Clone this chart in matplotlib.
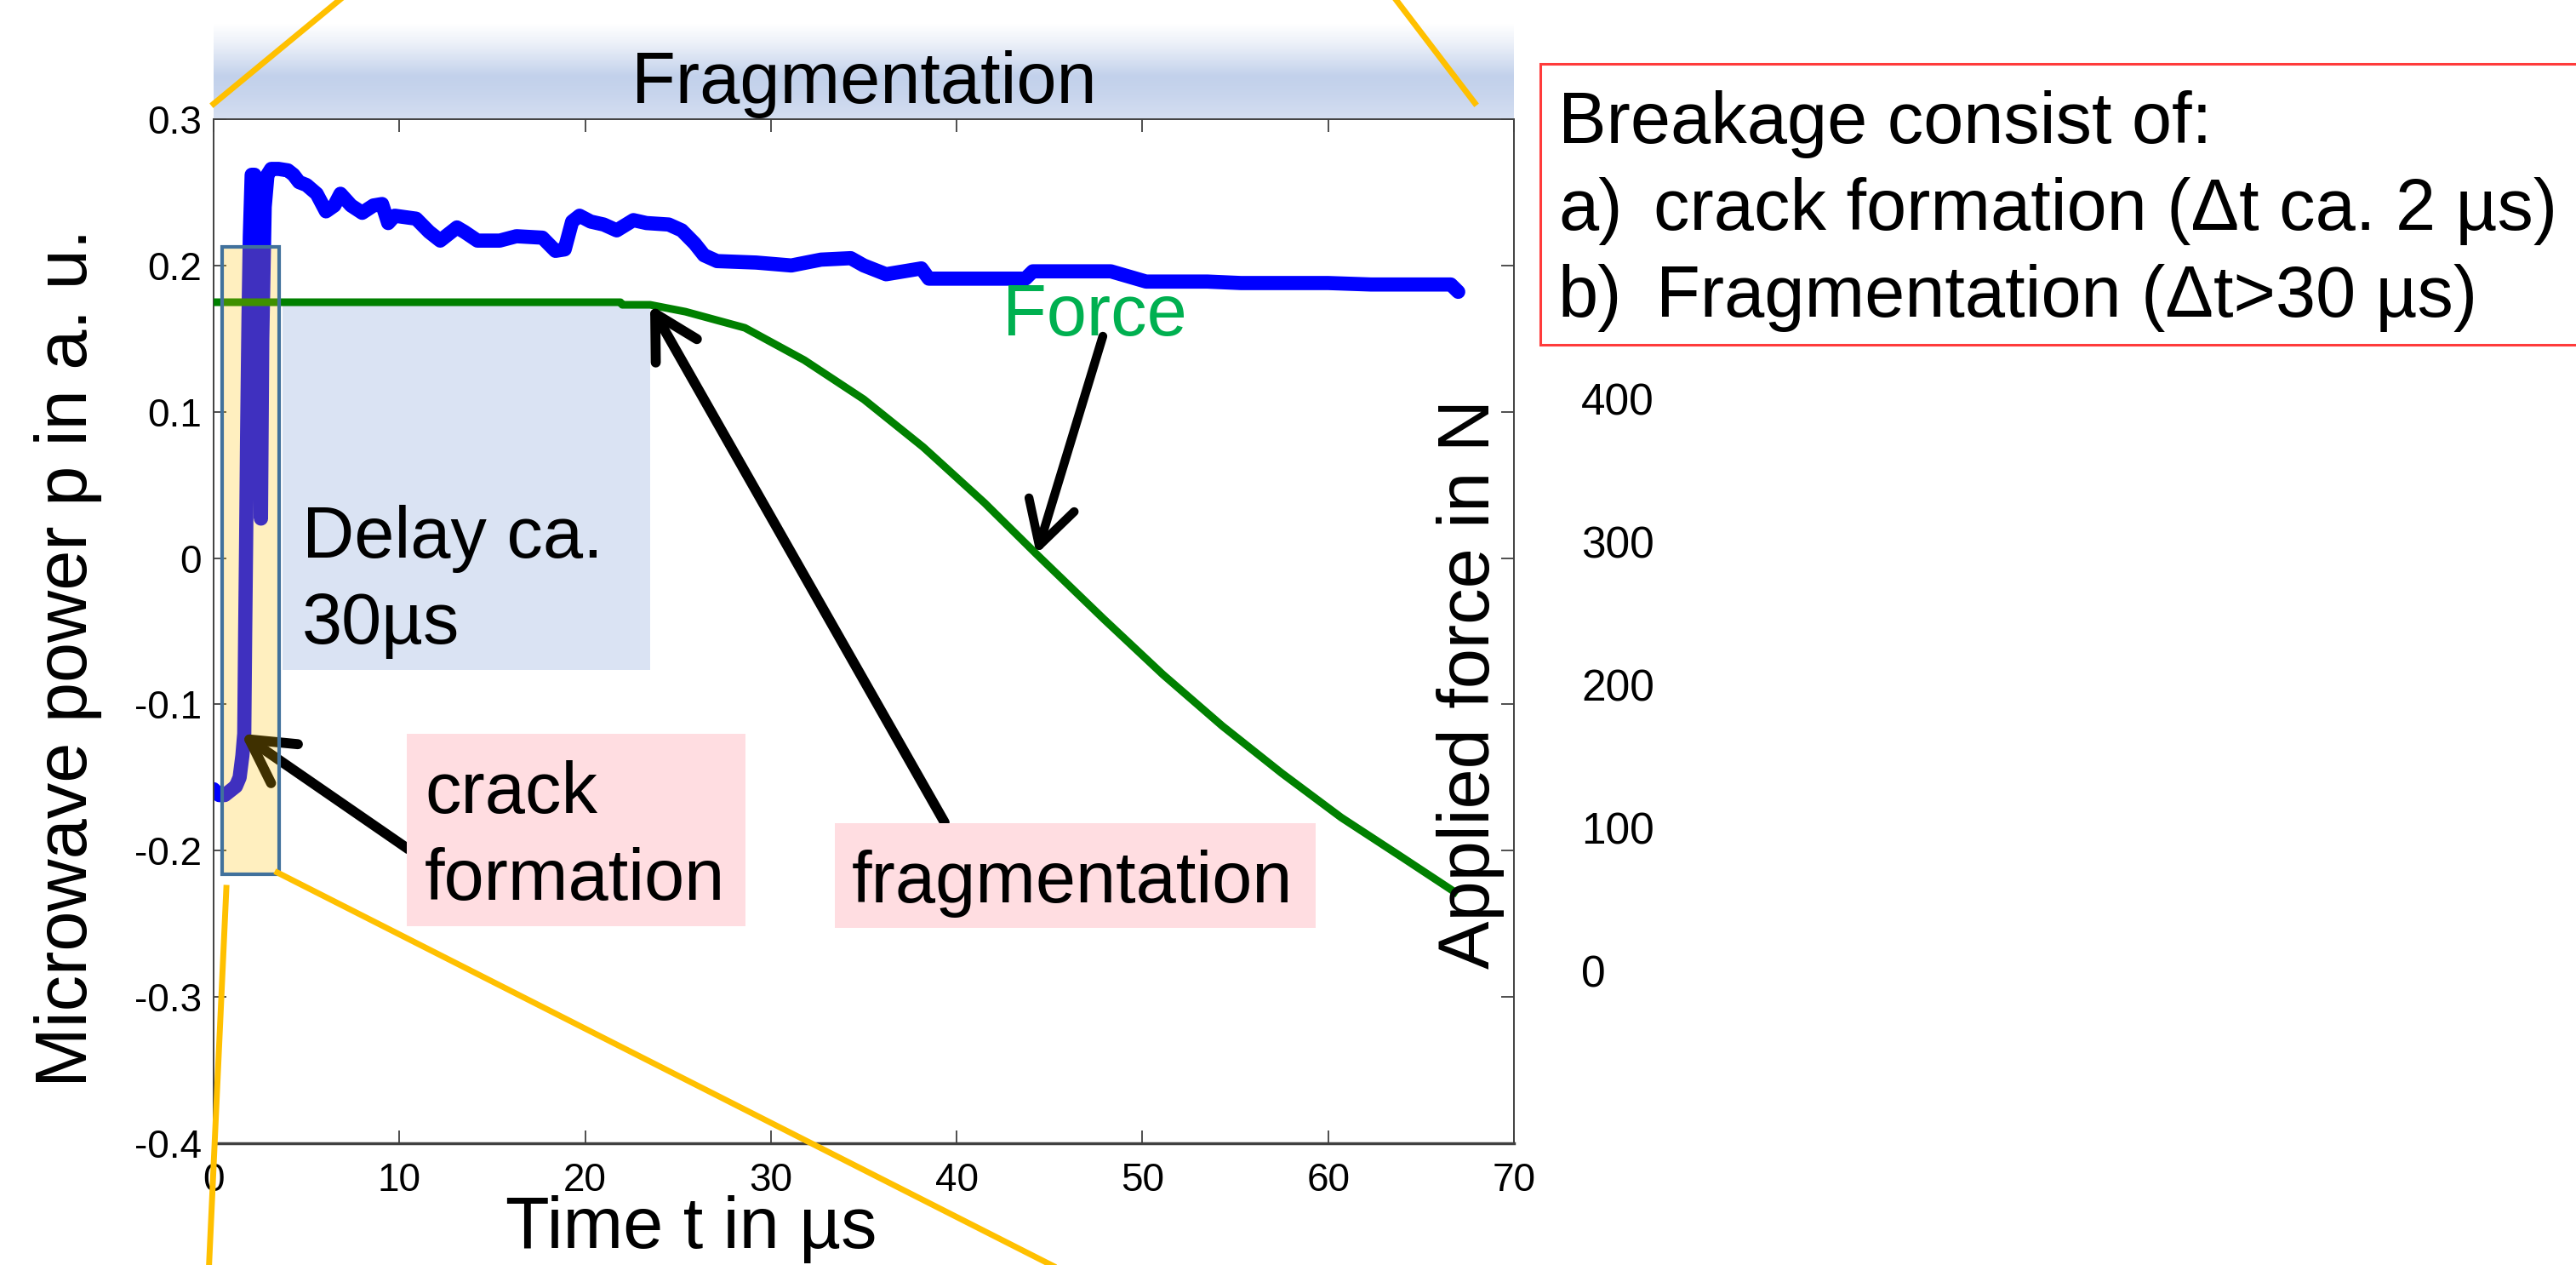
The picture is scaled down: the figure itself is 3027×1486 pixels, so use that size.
import numpy as np
import matplotlib
matplotlib.use("Agg")
import matplotlib.pyplot as plt
from matplotlib.patches import Rectangle, ArrowStyle
from matplotlib.lines import Line2D
from matplotlib.colors import LinearSegmentedColormap

W, H, DPI = 3027, 1486, 100

plt.rcParams['font.family'] = ['Liberation Sans', 'DejaVu Sans']
plt.rcParams['axes.unicode_minus'] = False

# Microwave power trace: time in µs, power in a. u.
power_time = [0.0, 0.3, 0.6, 0.9, 1.2, 1.4, 1.55, 1.65, 1.7, 1.75, 1.8, 1.88,
              1.95, 2.05, 2.2, 2.35, 2.45, 2.5, 2.55, 2.62, 2.75, 2.9, 3.1,
              3.5, 4.0, 4.3, 4.6, 5.0, 5.55, 6.05, 6.5, 6.83, 7.4, 8.0, 8.6,
              9.07, 9.4, 9.75, 10.9, 11.6, 12.2, 13.1, 13.5, 14.2, 15.4, 16.3,
              17.7, 18.4, 18.9, 19.3, 19.7, 20.3, 21.0, 21.7, 22.6, 23.3, 24.5,
              25.2, 25.9, 26.4, 27.1, 29.2, 31.1, 32.7, 34.3, 35.0, 36.2, 38.1,
              38.5, 43.7, 44.1, 48.3, 50.2, 53.5, 55.3, 60.0, 62.3, 66.6, 67.0]
power_value = [-0.158, -0.162, -0.162, -0.159, -0.156, -0.150, -0.135, -0.120,
               -0.050, 0.010, 0.080, 0.165, 0.220, 0.262, 0.262, 0.258, 0.240,
               0.150, 0.027, 0.150, 0.240, 0.262, 0.266, 0.266, 0.265, 0.262,
               0.257, 0.255, 0.249, 0.237, 0.241, 0.249, 0.241, 0.236, 0.241,
               0.242, 0.229, 0.234, 0.232, 0.223, 0.217, 0.226, 0.223, 0.217,
               0.217, 0.220, 0.219, 0.210, 0.211, 0.230, 0.234, 0.230, 0.228,
               0.224, 0.231, 0.229, 0.228, 0.224, 0.215, 0.207, 0.203, 0.202,
               0.200, 0.204, 0.205, 0.200, 0.194, 0.198, 0.191, 0.191, 0.196,
               0.196, 0.189, 0.189, 0.188, 0.188, 0.187, 0.187, 0.182]

# Applied force trace: time in µs, force in N
force_time = [0.0, 21.9, 22.0, 23.5, 25.4, 28.6, 31.8, 35.0, 38.2, 41.5, 44.3,
              47.9, 51.1, 54.3, 57.5, 60.7, 64.0, 66.8]
force_value = [467.3, 467.3, 465.5, 465.5, 460.7, 449.4, 426.8, 399.4, 366.0,
               327.0, 291.1, 246.0, 207.0, 171.0, 138.0, 107.0, 79.0, 55.0]

x_ticks = [0, 10, 20, 30, 40, 50, 60, 70]
y_ticks = [-0.4, -0.3, -0.2, -0.1, 0.0, 0.1, 0.2, 0.3]
y_tick_labels = ['-0.4', '-0.3', '-0.2', '-0.1', '0', '0.1', '0.2', '0.3']
force_ticks = [0, 100, 200, 300, 400]

# Highlighted windows (time in µs, power in a. u.)
crack_t = (0.46, 3.53)
crack_p = (-0.216, 0.213)
delay_t = (3.71, 23.5)
delay_p = (-0.0765, 0.174)

# Arrow targets / tails
crack_tip, crack_tail = (1.47, -0.120), (10.49, -0.199)        # power axis
frag_tip, frag_tail = (23.5, 465.5), (39.35, 103.6)             # force axis
force_tip, force_tail = (44.3, 291.1), (47.87, 443.5)           # force axis

BIG = 61


def fx(x):
    return x / W


def fy(y):
    return 1 - y / H


fig = plt.figure(figsize=(W / DPI, H / DPI), dpi=DPI)
fig.patch.set_facecolor('white')

# Gradient title band above the plot
band = fig.add_axes([fx(251), fy(140), (1779 - 251) / W, (140 - 28) / H])
band_cmap = LinearSegmentedColormap.from_list(
    'band', list(zip([0.0, 0.2, 0.55, 0.75, 1.0],
                     ['#FFFFFF', '#EDF1F9', '#C2D1EB', '#C8D5ED', '#D5DFF1'])))
band.imshow(np.linspace(0, 1, 256).reshape(-1, 1), aspect='auto', cmap=band_cmap,
            extent=[0, 1, 0, 1], origin='upper')
band.axis('off')
fig.text(fx(1015), fy(121), 'Fragmentation', ha='center', va='baseline', size=BIG)

ax = fig.add_axes([fx(251), fy(1343), (1779 - 251) / W, (1343 - 140) / H])
ax.set_xlim(0, 70)
ax.set_ylim(-0.4, 0.3)

ax.add_patch(Rectangle((delay_t[0], delay_p[0]), delay_t[1] - delay_t[0],
                       delay_p[1] - delay_p[0], facecolor='#DAE3F3',
                       edgecolor='none', zorder=1))
ax.plot(power_time, power_value, color='#0000FF', lw=12,
        solid_capstyle='round', solid_joinstyle='round', zorder=2)

ax.set_xticks(x_ticks)
ax.set_xticklabels([str(v) for v in x_ticks])
ax.set_yticks(y_ticks)
ax.set_yticklabels(y_tick_labels)

ax2 = ax.twinx()
ax2.set_ylim(-120.8, 595.3)
ax2.plot(force_time, force_value, color='#008000', lw=6.5, zorder=2,
         solid_joinstyle='round')
ax2.set_yticks(force_ticks)
ax2.set_yticklabels([str(v) for v in force_ticks])
ax2.tick_params(axis='y', length=0, pad=57, labelsize=37)
for s in ax2.spines.values():
    s.set_visible(False)

ax.tick_params(direction='in', length=11, width=1.2, color='#303030',
               top=True, right=True, labelsize=33)
ax.tick_params(axis='x', pad=16)
ax.tick_params(axis='y', pad=10)
for name, s in ax.spines.items():
    s.set_color('#404040')
    s.set_linewidth(2.5 if name == 'bottom' else 1.4)

# Annotation arrows
style = ArrowStyle('->', head_length=36, head_width=20)
arrow_kw = dict(arrowstyle=style, mutation_scale=1, lw=8.5, color='black',
                shrinkA=0, shrinkB=0)
ax2.annotate('', xy=crack_tip, xycoords=ax.transData, xytext=crack_tail,
             textcoords=ax.transData, arrowprops=arrow_kw, zorder=4)
ax2.annotate('', xy=frag_tip, xytext=frag_tail, arrowprops=arrow_kw, zorder=4)
ax2.annotate('', xy=force_tip, xytext=force_tail,
             arrowprops=dict(arrow_kw, lw=7.5), zorder=4)

# Crack-formation window on top (translucent)
ax2.add_patch(Rectangle((crack_t[0], crack_p[0]), crack_t[1] - crack_t[0],
                        crack_p[1] - crack_p[0], transform=ax.transData,
                        facecolor='#FFC000', alpha=0.25, edgecolor='none', zorder=5))
ax2.add_patch(Rectangle((crack_t[0], crack_p[0]), crack_t[1] - crack_t[0],
                        crack_p[1] - crack_p[0], transform=ax.transData,
                        facecolor='none', edgecolor='#41719C', lw=3, zorder=6))

# Texts inside the plot
fig.text(fx(355), fy(655), 'Delay ca.', size=BIG, va='baseline')
fig.text(fx(355), fy(756), '30µs', size=BIG, va='baseline')
fig.text(fx(1178), fy(394), 'Force', size=BIG, va='baseline', color='#00B050')

# Label boxes
fig.add_artist(Rectangle((fx(478), fy(1088)), (876 - 478) / W, (1088 - 862) / H,
                         transform=fig.transFigure, facecolor='#FFDDE1',
                         edgecolor='none', zorder=3))
fig.add_artist(Rectangle((fx(981), fy(1090)), (1546 - 981) / W, (1090 - 967) / H,
                         transform=fig.transFigure, facecolor='#FFDDE1',
                         edgecolor='none', zorder=3))
fig.text(fx(499), fy(955), 'crack', size=BIG, va='baseline', zorder=4)
fig.text(fx(499), fy(1057), 'formation', size=BIG, va='baseline', zorder=4)
fig.text(fx(1001), fy(1060), 'fragmentation', size=BIG, va='baseline', zorder=4)

# Axis titles
fig.text(fx(80), fy(773), 'Microwave power p in a. u.', size=BIG, rotation=90,
         ha='center', va='center')
fig.text(fx(1728), fy(804), 'Applied force in N', size=BIG, rotation=90,
         ha='center', va='center')
fig.text(fx(812), fy(1466), 'Time t in µs', size=BIG, ha='center', va='baseline')

# Summary box
fig.add_artist(Rectangle((fx(1810), fy(405)), (3100 - 1810) / W, (405 - 75) / H,
                         transform=fig.transFigure, facecolor='white',
                         edgecolor='#FF3B3B', lw=2.2, zorder=3))
fig.text(fx(1831), fy(168), 'Breakage consist of:', size=BIG, va='baseline', zorder=4)
fig.text(fx(1831), fy(270), 'a)', size=BIG, va='baseline', zorder=4)
fig.text(fx(1943), fy(270), 'crack formation (Δt ca. 2 µs)', size=BIG,
         va='baseline', zorder=4)
fig.text(fx(1831), fy(372), 'b)', size=BIG, va='baseline', zorder=4)
fig.text(fx(1946), fy(372), 'Fragmentation (Δt>30 µs)', size=BIG,
         va='baseline', zorder=4)

# Magnifier guide lines
guides = [((251, 122), (411, -10)), ((1633, -10), (1733, 121)),
          ((266, 1043), (245, 1500)), ((326, 1025), (1263, 1500))]
for (x0, y0), (x1, y1) in guides:
    fig.add_artist(Line2D([fx(x0), fx(x1)], [fy(y0), fy(y1)],
                          transform=fig.transFigure, color='#FFC000', lw=5,
                          zorder=7))

fig.savefig('out.png', dpi=DPI)
